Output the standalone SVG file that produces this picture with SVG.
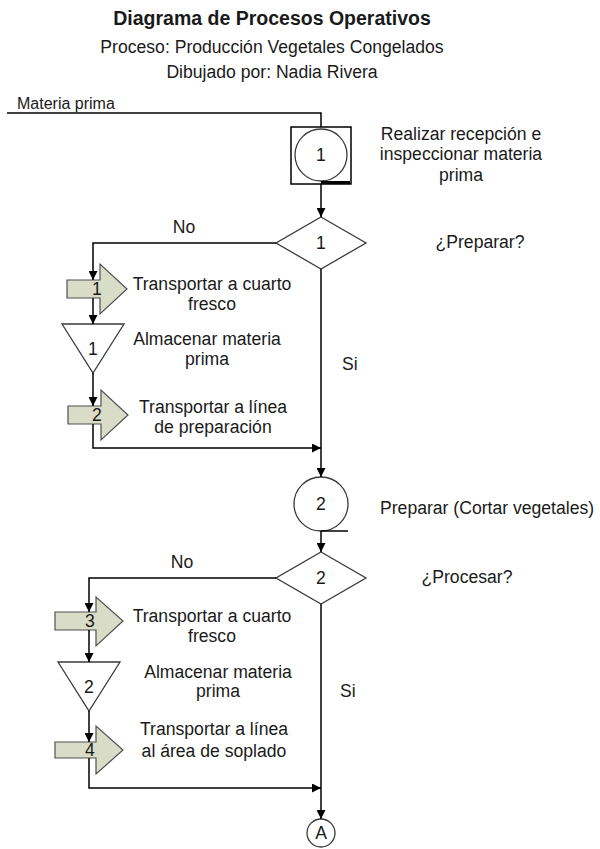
<svg xmlns="http://www.w3.org/2000/svg" width="600" height="849" viewBox="0 0 600 849">
<defs>
<style>
text{font-family:"Liberation Sans",Arial,sans-serif;fill:#1a1a1a;}
.t{font-size:17.6px;}
.c{text-anchor:middle;}
.title{font-size:19.5px;font-weight:bold;text-anchor:middle;}
.sub{font-size:17.6px;text-anchor:middle;}
.shape{fill:#fff;stroke:#3a3a3a;stroke-width:1.3;}
.tr{fill:#d9dcc6;stroke:#505050;stroke-width:1.2;}
.conn{fill:none;stroke:#000;stroke-width:1.5;}
</style>
<marker id="ah" viewBox="0 0 10 10" refX="10" refY="5" markerWidth="9" markerHeight="9" markerUnits="userSpaceOnUse" orient="auto">
<path d="M0,0 L10,5 L0,10 z" fill="#000"/>
</marker>
</defs>
<rect width="600" height="849" fill="#fff"/>
<g id="header">
<text class="title" x="272" y="25">Diagrama de Procesos Operativos</text>
<text class="sub" x="272" y="53">Proceso: Producción Vegetales Congelados</text>
<text class="sub" x="272" y="78">Dibujado por: Nadia Rivera</text>
</g>
<g id="op1">
<rect x="291" y="127" width="60" height="57" fill="#fff" stroke="#000" stroke-width="1.5"/>
<circle class="shape" cx="321" cy="155" r="26"/>
<line x1="321" y1="182.5" x2="350" y2="182.5" stroke="#000" stroke-width="3"/>
<text class="t c" x="321" y="161">1</text>
<text class="t c" x="461" y="140">Realizar recepción e</text>
<text class="t c" x="461" y="160">inspeccionar materia</text>
<text class="t c" x="461" y="181">prima</text>
</g>
<g id="dec1">
<polygon class="shape" points="321,217 366,243 321,269 276,243"/>
<text class="t c" x="321" y="249">1</text>
<text class="t c" x="480" y="248">¿Preparar?</text>
</g>
<g id="tr1">
<path class="tr" d="M67,280 H100 V264 L127,289 L100,314 V298 H67 Z"/>
<text class="t c" x="97" y="295">1</text>
<text class="t c" x="212" y="290">Transportar a cuarto</text>
<text class="t c" x="212" y="310">fresco</text>
</g>
<g id="alm1">
<polygon class="shape" points="62,324 124,324 93,373"/>
<text class="t c" x="93" y="355">1</text>
<text class="t c" x="207" y="345">Almacenar materia</text>
<text class="t c" x="207" y="365">prima</text>
</g>
<g id="tr2">
<path class="tr" d="M68,406 H101 V390 L128,415 L101,440 V424 H68 Z"/>
<text class="t c" x="97" y="421">2</text>
<text class="t c" x="213" y="413">Transportar a línea</text>
<text class="t c" x="213" y="433">de preparación</text>
</g>
<g id="op2">
<circle class="shape" cx="321" cy="504" r="27"/>
<line x1="321" y1="531" x2="348" y2="531" stroke="#000" stroke-width="1.5"/>
<text class="t c" x="321" y="510">2</text>
<text class="t" x="380" y="514">Preparar (Cortar vegetales)</text>
</g>
<g id="dec2">
<polygon class="shape" points="321,552 366,578 321,604 276,578"/>
<text class="t c" x="321" y="584">2</text>
<text class="t c" x="467" y="583">¿Procesar?</text>
</g>
<g id="tr3">
<path class="tr" d="M55,612 H96 V597 L123,621 L96,646 V630 H55 Z"/>
<text class="t c" x="90" y="627">3</text>
<text class="t c" x="212" y="622">Transportar a cuarto</text>
<text class="t c" x="212" y="642">fresco</text>
</g>
<g id="alm2">
<polygon class="shape" points="58,662 120,662 89,711"/>
<text class="t c" x="89" y="693">2</text>
<text class="t c" x="218" y="678">Almacenar materia</text>
<text class="t c" x="218" y="697">prima</text>
</g>
<g id="tr4">
<path class="tr" d="M55,742 H96 V726 L123,750 L96,774 V758 H55 Z"/>
<text class="t c" x="90" y="756">4</text>
<text class="t c" x="214" y="735">Transportar a línea</text>
<text class="t c" x="214" y="757">al área de soplado</text>
</g>
<g id="connA">
<circle class="shape" cx="321" cy="833" r="14"/>
<text class="t c" x="321" y="839">A</text>
</g>
<g id="labels">
<text x="17" y="109" style="font-size:16px">Materia prima</text>
<text class="t c" x="184" y="233">No</text>
<text class="t" x="342" y="370">Si</text>
<text class="t c" x="182" y="568">No</text>
<text class="t" x="340" y="697">Si</text>
</g>
<g id="connectors">
<path class="conn" d="M7,113 H321 V127" stroke="#555"/>
<path class="conn" d="M321,184 V217" marker-end="url(#ah)"/>
<path class="conn" d="M276,243 H93 V280" marker-end="url(#ah)"/>
<path class="conn" d="M93,298 V324" marker-end="url(#ah)"/>
<path class="conn" d="M93,373 V406" marker-end="url(#ah)"/>
<path class="conn" d="M93,424 V448 H321" marker-end="url(#ah)"/>
<path class="conn" d="M321,269 V477" marker-end="url(#ah)"/>
<path class="conn" d="M321,531 V552" marker-end="url(#ah)"/>
<path class="conn" d="M276,578 H89 V612" marker-end="url(#ah)"/>
<path class="conn" d="M89,630 V662" marker-end="url(#ah)"/>
<path class="conn" d="M89,711 V742" marker-end="url(#ah)"/>
<path class="conn" d="M89,758 V788 H321" marker-end="url(#ah)"/>
<path class="conn" d="M321,604 V819" marker-end="url(#ah)"/>
</g>
</svg>
